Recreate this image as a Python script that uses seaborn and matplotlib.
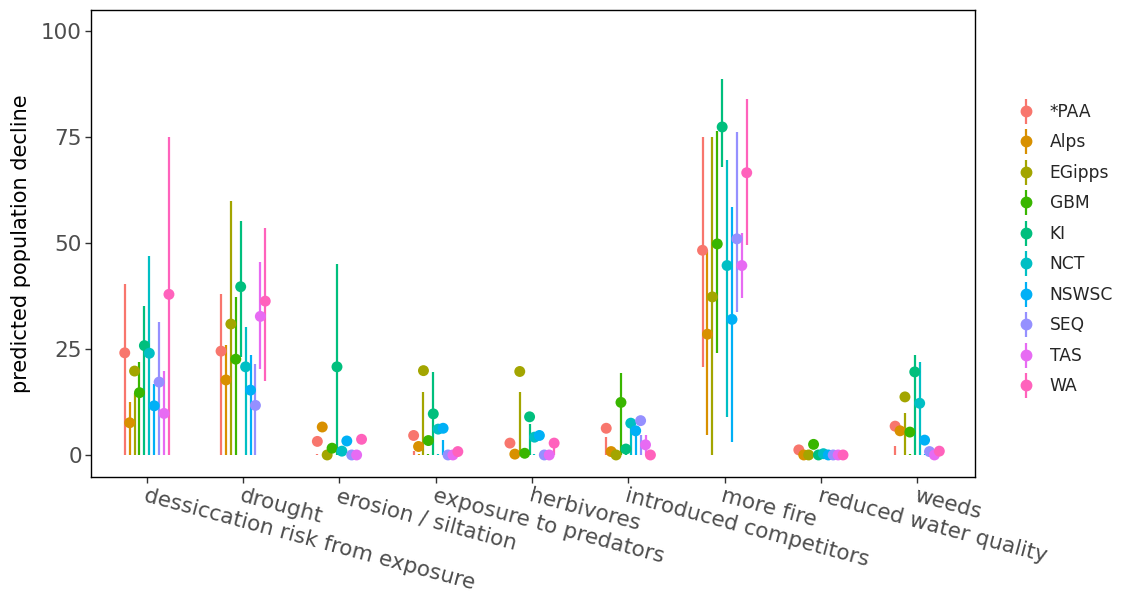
import numpy as np
import pandas as pd
import matplotlib
matplotlib.use("Agg")
import matplotlib.pyplot as plt
import seaborn as sns
from matplotlib.lines import Line2D
from matplotlib.legend_handler import HandlerTuple

categories = ["dessiccation risk from exposure", "drought", "erosion / siltation",
              "exposure to predators", "herbivores", "introduced competitors",
              "more fire", "reduced water quality", "weeds"]
regions = ["*PAA", "Alps", "EGipps", "GBM", "KI", "NCT", "NSWSC", "SEQ", "TAS", "WA"]
colors = ["#F8766D", "#D89000", "#A3A500", "#39B600", "#00BF7D",
          "#00BFC4", "#00B0F6", "#9590FF", "#E76BF3", "#FF62BC"]

paa_mean = [24.1, 24.5, 3.2, 4.6, 2.8, 6.3, 48.3, 1.2, 6.8]
paa_lo   = [0, 0, 0, 0, 2.8, 0, 20.8, 1.2, 0]
paa_hi   = [40.3, 37.9, 0.3, 1.0, 2.8, 4.3, 75.0, 1.2, 2.0]

alps_mean = [7.6, 17.7, 6.6, 2.0, 0.2, 0.8, 28.5, 0, 5.7]
alps_lo   = [0, 0, 6.6, 0, 0.2, 0.8, 4.7, 0, 5.7]
alps_hi   = [12.4, 25.9, 6.6, 0.3, 0.2, 0.8, 48.3, 0, 5.7]

egipps_mean = [19.8, 30.9, 0, 19.9, 19.7, 0, 37.3, 0, 13.7]
egipps_lo   = [0, 0, 0, 0, 0, 0, 0, 0, 0]
egipps_hi   = [14.7, 59.9, 0, 14.8, 14.8, 0, 75.0, 0, 9.8]

gbm_mean = [14.7, 22.6, 1.6, 3.4, 0.4, 12.4, 49.8, 2.5, 5.4]
gbm_lo   = [0, 0, 1.6, 0, 0.4, 0, 24.1, 2.5, 0]
gbm_hi   = [22.0, 37.3, 1.6, 0.3, 0.4, 19.4, 76.4, 2.5, 0.3]

ki_mean = [25.8, 39.7, 20.8, 9.7, 9.0, 1.4, 77.4, 0, 19.6]
ki_lo   = [0, 23.0, 0, 0, 0, 0, 68.0, 0, 0]
ki_hi   = [35.1, 55.2, 45.0, 19.5, 7.3, 1.4, 88.8, 0, 23.6]

nct_mean = [24.0, 20.8, 0.9, 6.1, 4.2, 7.5, 44.7, 0.3, 12.2]
nct_lo   = [0, 0, 0.9, 0, 0, 0, 8.9, 0.3, 0]
nct_hi   = [46.9, 30.1, 0.9, 0.3, 0.3, 7.5, 69.7, 0.3, 22.0]

nswsc_mean = [11.6, 15.3, 3.3, 6.3, 4.6, 5.7, 32.0, 0, 3.5]
nswsc_lo   = [0, 0, 3.3, 0, 4.6, 0, 3.1, 0, 0]
nswsc_hi   = [16.7, 23.6, 3.3, 3.5, 4.6, 5.7, 58.6, 0, 0.3]

seq_mean = [17.2, 11.7, 0, 0, 0, 8.1, 51.0, 0, 0.8]
seq_lo   = [0, 0, 0, 0, 0, 0, 33.7, 0, 0.8]
seq_hi   = [31.4, 21.4, 0, 0, 0, 4.7, 76.1, 0, 0.8]

tas_mean = [9.8, 32.7, 0, 0, 0, 2.4, 44.7, 0, 0]
tas_lo   = [0, 20.4, 0, 0, 0, 0, 37.1, 0, 0]
tas_hi   = [19.9, 45.6, 0, 0, 0, 4.7, 52.3, 0, 0]

wa_mean = [37.9, 36.3, 3.7, 0.8, 2.8, 0, 66.6, 0, 0.9]
wa_lo   = [0, 17.5, 3.7, 0.8, 0, 0, 49.5, 0, 0.9]
wa_hi   = [75.1, 53.5, 3.7, 0.8, 2.8, 0, 83.9, 0, 0.9]

means = [paa_mean, alps_mean, egipps_mean, gbm_mean, ki_mean, nct_mean,
         nswsc_mean, seq_mean, tas_mean, wa_mean]
los = [paa_lo, alps_lo, egipps_lo, gbm_lo, ki_lo, nct_lo, nswsc_lo, seq_lo, tas_lo, wa_lo]
his = [paa_hi, alps_hi, egipps_hi, gbm_hi, ki_hi, nct_hi, nswsc_hi, seq_hi, tas_hi, wa_hi]

rows = []
n = len(regions)
step = 0.051
for ri, reg in enumerate(regions):
    for ci, cat in enumerate(categories):
        rows.append(dict(category=cat, region=reg,
                         x=ci + (ri - (n - 1) / 2) * step,
                         mean=means[ri][ci], lo=los[ri][ci], hi=his[ri][ci]))
df = pd.DataFrame(rows)

sns.set_theme(style="white")
plt.rcParams['font.family'] = ['DejaVu Sans']

fig = plt.figure(figsize=(11.26, 5.95), dpi=100)
ax = fig.add_axes([91 / 1126, 1 - 477 / 595, (975 - 91) / 1126, (477 - 10) / 595])

pal = dict(zip(regions, colors))
for reg in regions:
    d = df[df.region == reg]
    ax.vlines(d.x, d.lo, d.hi, color=pal[reg], linewidth=1.6, zorder=2)
sns.scatterplot(data=df, x="x", y="mean", hue="region", palette=pal, s=62,
                edgecolor="none", linewidth=0, legend=False, ax=ax, zorder=3)

ax.set_xlim(-0.58, len(categories) - 0.4)
ax.set_ylim(-5.2, 105)
ax.set_xticks(range(len(categories)))
ax.set_xticklabels(categories, rotation=-15, ha="left", va="top",
                   rotation_mode="anchor", fontsize=15.5, color="#4D4D4D")
ax.set_yticks([0, 25, 50, 75, 100])
ax.set_yticklabels(["0", "25", "50", "75", "100"], fontsize=15.5, color="#4D4D4D")
ax.tick_params(axis="both", which="both", length=4, width=1, color="#333333",
               bottom=True, left=True, pad=2.5)
ax.set_xlabel("")
ax.set_ylabel("predicted population decline", fontsize=15, color="black", labelpad=7)
for sp in ax.spines.values():
    sp.set_visible(True)
    sp.set_color("black")
    sp.set_linewidth(1.0)

handles = [(Line2D([], [], marker="|", markersize=18, markeredgewidth=1.6,
                   linestyle="None", color=c),
            Line2D([], [], marker="o", markersize=7.5, linestyle="None", color=c))
           for c in colors]
fig.legend(handles, regions, handler_map={tuple: HandlerTuple(ndivide=1)},
           loc="center left", bbox_to_anchor=(1000 / 1126, 1 - 249 / 595),
           frameon=False, fontsize=12.3, labelspacing=0.73, handlelength=1.2,
           handletextpad=0.8)

fig.savefig("out.png", dpi=100)
